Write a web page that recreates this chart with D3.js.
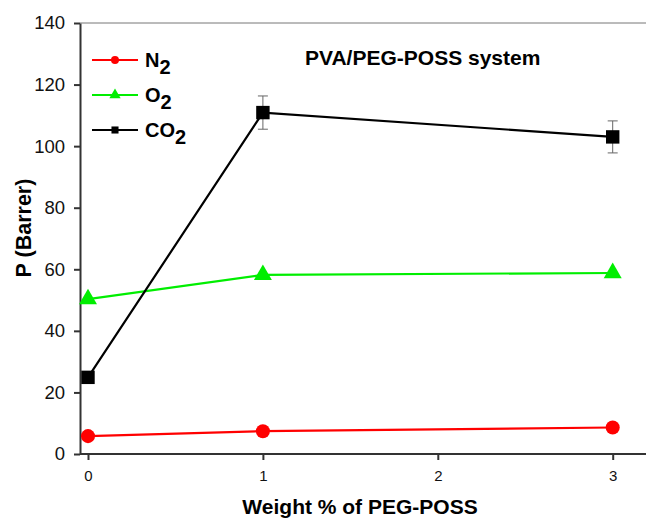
<!DOCTYPE html>
<html>
<head>
<meta charset="utf-8">
<script src="https://cdn.jsdelivr.net/npm/d3@7"></script>
<style>
body { margin: 0; background: #fff; }
text { font-family: "Liberation Sans", Arial, sans-serif; }
</style>
</head>
<body>
<div id="chart"></div>
<script>
// data
var weights = [0, 1, 3];
var n2 = [5.8, 7.4, 8.6];
var o2 = [50.3, 58.2, 58.8];
var co2 = [24.9, 110.9, 103.0];
var co2Err = [0, 5.4, 5.2];
var o2Err = [1.2, 1.2, 1.2];
var yTicks = [0, 20, 40, 60, 80, 100, 120, 140];
var xTicks = [0, 1, 2, 3];

var width = 646, height = 518;
var margin = {left: 80, top: 23, bottom: 64};

var svg = d3.select("#chart").append("svg")
	.attr("width", width).attr("height", height);

var x = d3.scaleLinear().domain([0, 3]).range([88, 612.7]);
var y = d3.scaleLinear().domain([0, 140]).range([454, 23]);

// top frame line (right side is cropped off)
svg.append("line")
	.attr("x1", margin.left).attr("x2", width)
	.attr("y1", y(140)).attr("y2", y(140))
	.attr("stroke", "#777").attr("stroke-width", 1);

// axes
var yAxis = svg.append("g")
	.attr("transform", "translate(" + margin.left + ",0)")
	.call(d3.axisLeft(y).tickValues(yTicks).tickSize(6).tickSizeOuter(0).tickPadding(9));
yAxis.selectAll("text").attr("font-size", 18.5).attr("fill", "#111");

var xAxis = svg.append("g")
	.attr("transform", "translate(0," + y(0) + ")")
	.call(d3.axisBottom(x).tickValues(xTicks).tickFormat(d3.format("d"))
		.tickSize(6).tickSizeOuter(0).tickPadding(10));
xAxis.select(".domain").attr("d", "M" + margin.left + ",0H" + width);
xAxis.selectAll("text").attr("font-size", 15).attr("fill", "#111");

svg.selectAll(".domain").attr("stroke", "#333").attr("stroke-width", 2);
svg.selectAll(".tick line").attr("stroke", "#333").attr("stroke-width", 2);

// axis titles
svg.append("text")
	.attr("transform", "translate(31,228) rotate(-90)")
	.attr("text-anchor", "middle")
	.attr("font-size", 21.5).attr("font-weight", "bold")
	.text("P (Barrer)");

svg.append("text")
	.attr("x", 360).attr("y", 514)
	.attr("text-anchor", "middle")
	.attr("font-size", 21).attr("font-weight", "bold")
	.text("Weight % of PEG-POSS");

svg.append("text")
	.attr("x", 305).attr("y", 65)
	.attr("font-size", 21).attr("font-weight", "bold")
	.text("PVA/PEG-POSS system");

var series = [
	{name: "N", values: n2, color: "#ff0000", shape: d3.symbolCircle, size: 155, err: null},
	{name: "O", values: o2, color: "#00ee00", shape: d3.symbolTriangle, size: 140, err: o2Err},
	{name: "CO", values: co2, color: "#000000", shape: d3.symbolSquare, size: 180, err: co2Err}
];

var line = d3.line()
	.x(function(d, i) { return x(weights[i]); })
	.y(function(d) { return y(d); });

series.forEach(function(s) {
	svg.append("path")
		.datum(s.values)
		.attr("fill", "none")
		.attr("stroke", s.color)
		.attr("stroke-width", 2.2)
		.attr("d", line);

	if (s.err) {
		var errCol = s.color == "#000000" ? "#666" : s.color;
		s.values.forEach(function(v, i) {
			if (!s.err[i]) return;
			var cx = x(weights[i]);
			var g = svg.append("g").attr("stroke", errCol).attr("stroke-width", 1);
			g.append("line").attr("x1", cx).attr("x2", cx)
				.attr("y1", y(v + s.err[i])).attr("y2", y(v - s.err[i]));
			if (s.name == "CO") {
				g.append("line").attr("x1", cx - 5).attr("x2", cx + 5)
					.attr("y1", y(v + s.err[i])).attr("y2", y(v + s.err[i]));
				g.append("line").attr("x1", cx - 5).attr("x2", cx + 5)
					.attr("y1", y(v - s.err[i])).attr("y2", y(v - s.err[i]));
			}
		});
	}

	svg.selectAll(null)
		.data(s.values)
		.enter().append("path")
		.attr("transform", function(d, i) { return "translate(" + x(weights[i]) + "," + y(d) + ")"; })
		.attr("d", d3.symbol().type(s.shape).size(s.size))
		.attr("fill", s.color);
});

// legend
var legY = [60, 95, 130];
series.forEach(function(s, i) {
	var g = svg.append("g").attr("transform", "translate(0," + legY[i] + ")");
	g.append("line").attr("x1", 92).attr("x2", 138)
		.attr("stroke", s.color).attr("stroke-width", 2);
	g.append("path")
		.attr("transform", "translate(115,0)")
		.attr("d", d3.symbol().type(s.shape).size(s.name == "O" ? 55 : 50))
		.attr("fill", s.color);
	var t = g.append("text")
		.attr("x", 145).attr("y", 7)
		.attr("font-size", 20).attr("font-weight", "bold")
		.text(s.name);
	t.append("tspan").attr("dy", 7).text("2");
});
</script>
</body>
</html>
